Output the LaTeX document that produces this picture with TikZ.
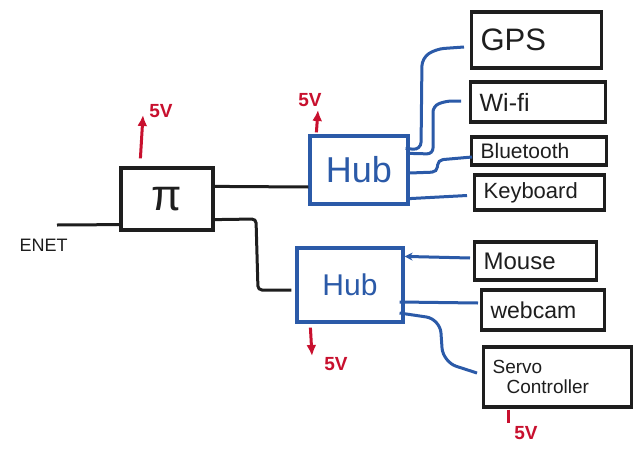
\documentclass[tikz,border=0pt]{standalone}
\usepackage{fontspec}
\setmainfont{Liberation Sans}
\usetikzlibrary{calc,arrows.meta}
\definecolor{ink}{HTML}{1E1E1E}
\definecolor{bl}{HTML}{2B5AA8}
\definecolor{rd}{HTML}{C8102E}
\newcommand{\fs}[1]{\fontsize{#1}{#1}\selectfont}
\begin{document}
\begin{tikzpicture}[x=1pt,y=-1pt,
  box/.style={draw=ink, line width=3.2pt, rectangle, inner sep=0pt, text=ink},
  hubbox/.style={draw=bl, line width=3.2pt, rectangle, inner sep=0pt, text=bl},
  dev/.style={box, anchor=west, align=left, inner xsep=9pt},
  wk/.style={draw=ink, line width=3pt, rounded corners=4pt},
  wb/.style={draw=bl, line width=3pt, rounded corners=8pt},
  pw/.style={draw=rd, line width=3pt, -{Latex[length=11pt,width=10pt]}},
  pline/.style={draw=rd, line width=3pt},
  pl/.style={text=rd, font=\bfseries\fs{19}}]
\fill[white] (0,0) rectangle (640,453);
\useasboundingbox (0,0) rectangle (640,453);

% main nodes
\node[box, minimum width=92pt, minimum height=62pt, font=\fs{44}] (pi) at (167,199) {π};
\node[hubbox, minimum width=98pt, minimum height=68pt, font=\fs{36}] (hubA) at (359,170) {Hub};
\node[hubbox, minimum width=106pt, minimum height=74pt, font=\fs{30}] (hubB) at (350,285) {Hub};

% devices
\node[dev, text width=112pt, minimum height=56pt, font=\fs{31}] (gps) at (470,40) {GPS};
\node[dev, text width=117pt, minimum height=40pt, font=\fs{25}] (wifi) at (469,102) {Wi-fi};
\node[dev, text width=117pt, minimum height=28pt, font=\fs{21}] (bt) at (470,151) {Bluetooth};
\node[dev, text width=112pt, minimum height=35pt, font=\fs{22}] (kb) at (473,192.5) {Keyboard};
\node[dev, text width=104pt, minimum height=38pt, font=\fs{24}] (mouse) at (473,261) {Mouse};
\node[dev, text width=105pt, minimum height=40pt, font=\fs{23}] (cam) at (480,310) {webcam};
\node[dev, text width=130pt, minimum height=60pt, font=\fs{19}, align=left] (servo) at (482,377) {Servo\\[1pt]\hspace*{14pt}Controller};

% ENET
\coordinate (enet) at (57,225);
\node[text=ink, font=\fs{18}, anchor=west] (enetl) at (16,245) {ENET};
\draw[wk] (enet) -- ($(pi.south west)+(0,-7)$);

% Pi to hubs
\draw[wk] ($(pi.north east)+(0,20)$) -- ($(hubA.west)+(0,17)$);
\draw[wk] ($(pi.south east)+(0,-12)$) -- (256,219) -- (258,290) -- ($(hubB.west)+(-4,5)$);

% hub A to devices
\draw[wb] ($(hubA.north east)+(-4,14)$) -- (421,150) -- (422,58) -- (436,49) -- ($(gps.west)+(-6,7)$);
\draw[wb, rounded corners=6pt] ($(hubA.north east)+(0,19)$) -- (433,154) -- (433,106) -- (446,101) -- ($(wifi.west)+(-8,-1)$);
\draw[wb, rounded corners=5pt] ($(hubA.east)+(0,3)$) -- (437,172) -- (438,160) -- ($(bt.west)+(2,6)$);
\draw[wb] ($(hubA.south east)+(0,-7)$) -- ($(kb.west)+(-6,3)$);

% hub B to devices
\draw[wb, -{Stealth[length=8pt,width=8pt]}] ($(mouse.west)+(-3,-3)$) -- ($(hubB.north east)+(0,10)$);
\draw[wb] ($(hubB.east)+(-5,17)$) -- ($(cam.west)+(-2,-7)$);
\draw[wb, rounded corners=14pt] ($(hubB.east)+(-5,28)$) -- (440,319) -- (443,362) -- ($(servo.west)+(-5,-4)$);

% power
\coordinate (p1) at (143,115);
\draw[pw] ($(pi.north west)+(21,-8)$) -- (p1);
\node[pl] (l1) at (161,111) {5V};
\coordinate (p2) at (318,110);
\draw[pw] ($(hubA.north west)+(8,-2)$) -- (p2);
\node[pl] (l2) at (310,100) {5V};
\coordinate (p3) at (312,356);
\draw[pw] ($(hubB.south west)+(15,4)$) -- (p3);
\node[pl] (l3) at (336,364) {5V};
\coordinate (p4) at (508,423);
\draw[pline] ($(servo.south west)+(26,1)$) -- (p4);
\node[pl] (l4) at (526,433) {5V};
\end{tikzpicture}
\end{document}
